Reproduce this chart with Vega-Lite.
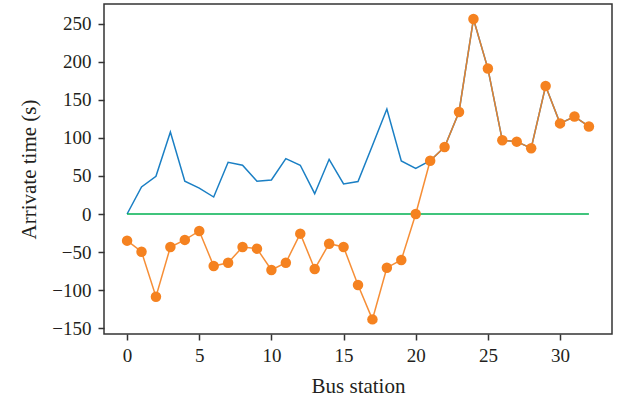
{
  "$schema": "https://vega.github.io/schema/vega-lite/v6.json",
  "width": 508,
  "height": 330,
  "autosize": "none",
  "padding": {"left": 104, "top": 4, "right": 7, "bottom": 70},
  "background": "white",
  "config": {
    "font": "Liberation Serif",
    "view": {"stroke": "#333333", "strokeWidth": 1.5},
    "axis": {
      "labelFont": "Liberation Serif",
      "titleFont": "Liberation Serif",
      "labelFontSize": 19,
      "titleFontSize": 21,
      "titleFontWeight": "normal",
      "labelColor": "#231f20",
      "titleColor": "#231f20",
      "domain": false,
      "grid": false,
      "tickColor": "#333333",
      "tickSize": 6,
      "tickWidth": 1.5
    }
  },
  "datasets": {
    "series": [
      {"station": 0, "series": "blue", "value": 0},
      {"station": 1, "series": "blue", "value": 35.5},
      {"station": 2, "series": "blue", "value": 49.5},
      {"station": 3, "series": "blue", "value": 107.7},
      {"station": 4, "series": "blue", "value": 43},
      {"station": 5, "series": "blue", "value": 34},
      {"station": 6, "series": "blue", "value": 22.3},
      {"station": 7, "series": "blue", "value": 67.9},
      {"station": 8, "series": "blue", "value": 64},
      {"station": 9, "series": "blue", "value": 43},
      {"station": 10, "series": "blue", "value": 44.7},
      {"station": 11, "series": "blue", "value": 72.7},
      {"station": 12, "series": "blue", "value": 64},
      {"station": 13, "series": "blue", "value": 26.7},
      {"station": 14, "series": "blue", "value": 71.8},
      {"station": 15, "series": "blue", "value": 39.4},
      {"station": 16, "series": "blue", "value": 42.7},
      {"station": 17, "series": "blue", "value": 90},
      {"station": 18, "series": "blue", "value": 137.9},
      {"station": 19, "series": "blue", "value": 69.6},
      {"station": 20, "series": "blue", "value": 60},
      {"station": 21, "series": "blue", "value": 70},
      {"station": 22, "series": "blue", "value": 88},
      {"station": 23, "series": "blue", "value": 134},
      {"station": 24, "series": "blue", "value": 256},
      {"station": 25, "series": "blue", "value": 191},
      {"station": 26, "series": "blue", "value": 96.8},
      {"station": 27, "series": "blue", "value": 95},
      {"station": 28, "series": "blue", "value": 86.3},
      {"station": 29, "series": "blue", "value": 168},
      {"station": 30, "series": "blue", "value": 119},
      {"station": 31, "series": "blue", "value": 128},
      {"station": 32, "series": "blue", "value": 115},
      {"station": 0, "series": "green", "value": 0},
      {"station": 32, "series": "green", "value": 0},
      {"station": 0, "series": "orange", "value": -35},
      {"station": 1, "series": "orange", "value": -49.5},
      {"station": 2, "series": "orange", "value": -108.6},
      {"station": 3, "series": "orange", "value": -43.3},
      {"station": 4, "series": "orange", "value": -34},
      {"station": 5, "series": "orange", "value": -22.3},
      {"station": 6, "series": "orange", "value": -68.3},
      {"station": 7, "series": "orange", "value": -64},
      {"station": 8, "series": "orange", "value": -43.3},
      {"station": 9, "series": "orange", "value": -45.5},
      {"station": 10, "series": "orange", "value": -73.6},
      {"station": 11, "series": "orange", "value": -64},
      {"station": 12, "series": "orange", "value": -25.8},
      {"station": 13, "series": "orange", "value": -72.2},
      {"station": 14, "series": "orange", "value": -39},
      {"station": 15, "series": "orange", "value": -43.3},
      {"station": 16, "series": "orange", "value": -93.3},
      {"station": 17, "series": "orange", "value": -138.4},
      {"station": 18, "series": "orange", "value": -70.5},
      {"station": 19, "series": "orange", "value": -60.4},
      {"station": 20, "series": "orange", "value": 0},
      {"station": 21, "series": "orange", "value": 70},
      {"station": 22, "series": "orange", "value": 88},
      {"station": 23, "series": "orange", "value": 134},
      {"station": 24, "series": "orange", "value": 256},
      {"station": 25, "series": "orange", "value": 191},
      {"station": 26, "series": "orange", "value": 96.8},
      {"station": 27, "series": "orange", "value": 95},
      {"station": 28, "series": "orange", "value": 86.3},
      {"station": 29, "series": "orange", "value": 168},
      {"station": 30, "series": "orange", "value": 119},
      {"station": 31, "series": "orange", "value": 128},
      {"station": 32, "series": "orange", "value": 115}
    ]
  },
  "data": {"name": "series"},
  "encoding": {
    "x": {
      "field": "station",
      "type": "quantitative",
      "scale": {"domain": [-1.6, 33.6], "nice": false, "zero": false},
      "axis": {"title": "Bus station", "values": [0, 5, 10, 15, 20, 25, 30], "labelFont": "Liberation Serif", "labelPadding": 6, "titlePadding": 10}
    },
    "y": {
      "field": "value",
      "type": "quantitative",
      "scale": {"domain": [-157.6, 275.8], "nice": false, "zero": false},
      "axis": {"title": "Arrivate time (s)", "values": [-150, -100, -50, 0, 50, 100, 150, 200, 250], "labelFont": "Liberation Serif", "labelPadding": 7, "titlePadding": 12}
    }
  },
  "layer": [
    {
      "transform": [{"filter": "datum.series === 'blue'"}],
      "mark": {"type": "line", "color": "#1a7fc4", "strokeWidth": 1.5}
    },
    {
      "transform": [{"filter": "datum.series === 'green'"}],
      "mark": {"type": "line", "color": "#00b050", "strokeWidth": 1.5}
    },
    {
      "transform": [{"filter": "datum.series === 'orange'"}],
      "mark": {"type": "line", "color": "#f58220", "strokeWidth": 1.5, "opacity": 0.9}
    },
    {
      "transform": [{"filter": "datum.series === 'orange'"}],
      "mark": {"type": "point", "filled": true, "shape": "circle", "size": 110, "color": "#f58220", "opacity": 1}
    }
  ]
}
